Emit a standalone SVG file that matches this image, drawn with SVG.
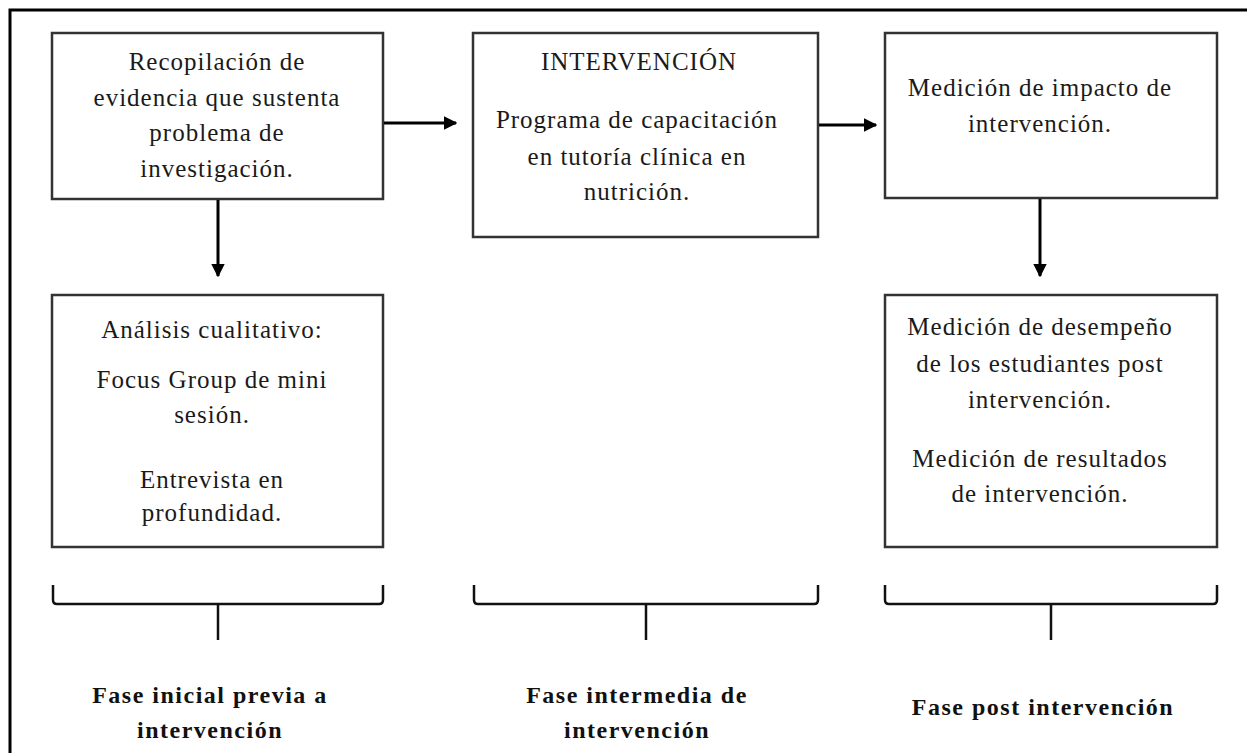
<svg xmlns="http://www.w3.org/2000/svg" width="1247" height="753" viewBox="0 0 1247 753">
<defs>
<marker id="ah" viewBox="0 0 10 10" refX="9" refY="5" markerWidth="4.5" markerHeight="4.5" orient="auto" markerUnits="strokeWidth">
<path d="M0,0 L10,5 L0,10 Z" fill="#000"/>
</marker>
<style>
.box{fill:#fff;stroke:#333;stroke-width:2.5}
.t{font-family:"Liberation Serif","Times New Roman",serif;font-size:25px;fill:#1a1a1a;text-anchor:middle;letter-spacing:1px}
.b{font-family:"Liberation Serif","Times New Roman",serif;font-size:24px;font-weight:bold;fill:#111;text-anchor:middle;letter-spacing:1.5px}
.c{fill:none;stroke:#000;stroke-width:3}
.br{fill:none;stroke:#111;stroke-width:2.5}
</style>
</defs>
<rect width="1247" height="753" fill="#fff"/>
<path d="M10,753 V10 H1247" fill="none" stroke="#000" stroke-width="3"/>

<g id="n1">
<rect class="box" x="52" y="33" width="331" height="166"/>
<text class="t" x="217" y="70">Recopilación de</text>
<text class="t" x="217" y="106">evidencia que sustenta</text>
<text class="t" x="217" y="141">problema de</text>
<text class="t" x="217" y="177">investigación.</text>
</g>
<g id="n2">
<rect class="box" x="473" y="33" width="345" height="204"/>
<text class="t" x="639" y="70">INTERVENCIÓN</text>
<text class="t" x="637" y="128">Programa de capacitación</text>
<text class="t" x="637" y="165">en tutoría clínica en</text>
<text class="t" x="637" y="200">nutrición.</text>
</g>
<g id="n3">
<rect class="box" x="885" y="33" width="332" height="165"/>
<text class="t" x="1040" y="96">Medición de impacto de</text>
<text class="t" x="1040" y="132">intervención.</text>
</g>
<g id="n4">
<rect class="box" x="52" y="295" width="331" height="252"/>
<text class="t" x="212" y="338">Análisis cualitativo:</text>
<text class="t" x="212" y="388">Focus Group de mini</text>
<text class="t" x="212" y="423">sesión.</text>
<text class="t" x="212" y="488">Entrevista en</text>
<text class="t" x="212" y="521">profundidad.</text>
</g>
<g id="n5">
<rect class="box" x="885" y="295" width="332" height="252"/>
<text class="t" x="1040" y="335">Medición de desempeño</text>
<text class="t" x="1040" y="372">de los estudiantes post</text>
<text class="t" x="1040" y="408">intervención.</text>
<text class="t" x="1040" y="467">Medición de resultados</text>
<text class="t" x="1040" y="502">de intervención.</text>
</g>

<g id="connectors">
<line class="c" x1="384" y1="123" x2="456" y2="123" marker-end="url(#ah)"/>
<line class="c" x1="819" y1="125" x2="876" y2="125" marker-end="url(#ah)"/>
<line class="c" x1="218" y1="200" x2="218" y2="276" marker-end="url(#ah)"/>
<line class="c" x1="1040" y1="199" x2="1040" y2="276" marker-end="url(#ah)"/>
</g>

<g id="bracket1">
<path class="br" d="M53,585 V600 Q53,604 57,604 H379 Q383,604 383,600 V585 M218,604 V640"/>
<text class="b" x="210" y="703">Fase inicial previa a</text>
<text class="b" x="210" y="738">intervención</text>
</g>
<g id="bracket2">
<path class="br" d="M474,585 V600 Q474,604 478,604 H814 Q818,604 818,600 V585 M646,604 V640"/>
<text class="b" x="637" y="703">Fase intermedia de</text>
<text class="b" x="637" y="738">intervención</text>
</g>
<g id="bracket3">
<path class="br" d="M885,585 V600 Q885,604 889,604 H1213 Q1217,604 1217,600 V585 M1051,604 V640"/>
<text class="b" x="1043" y="715">Fase post intervención</text>
</g>
</svg>
